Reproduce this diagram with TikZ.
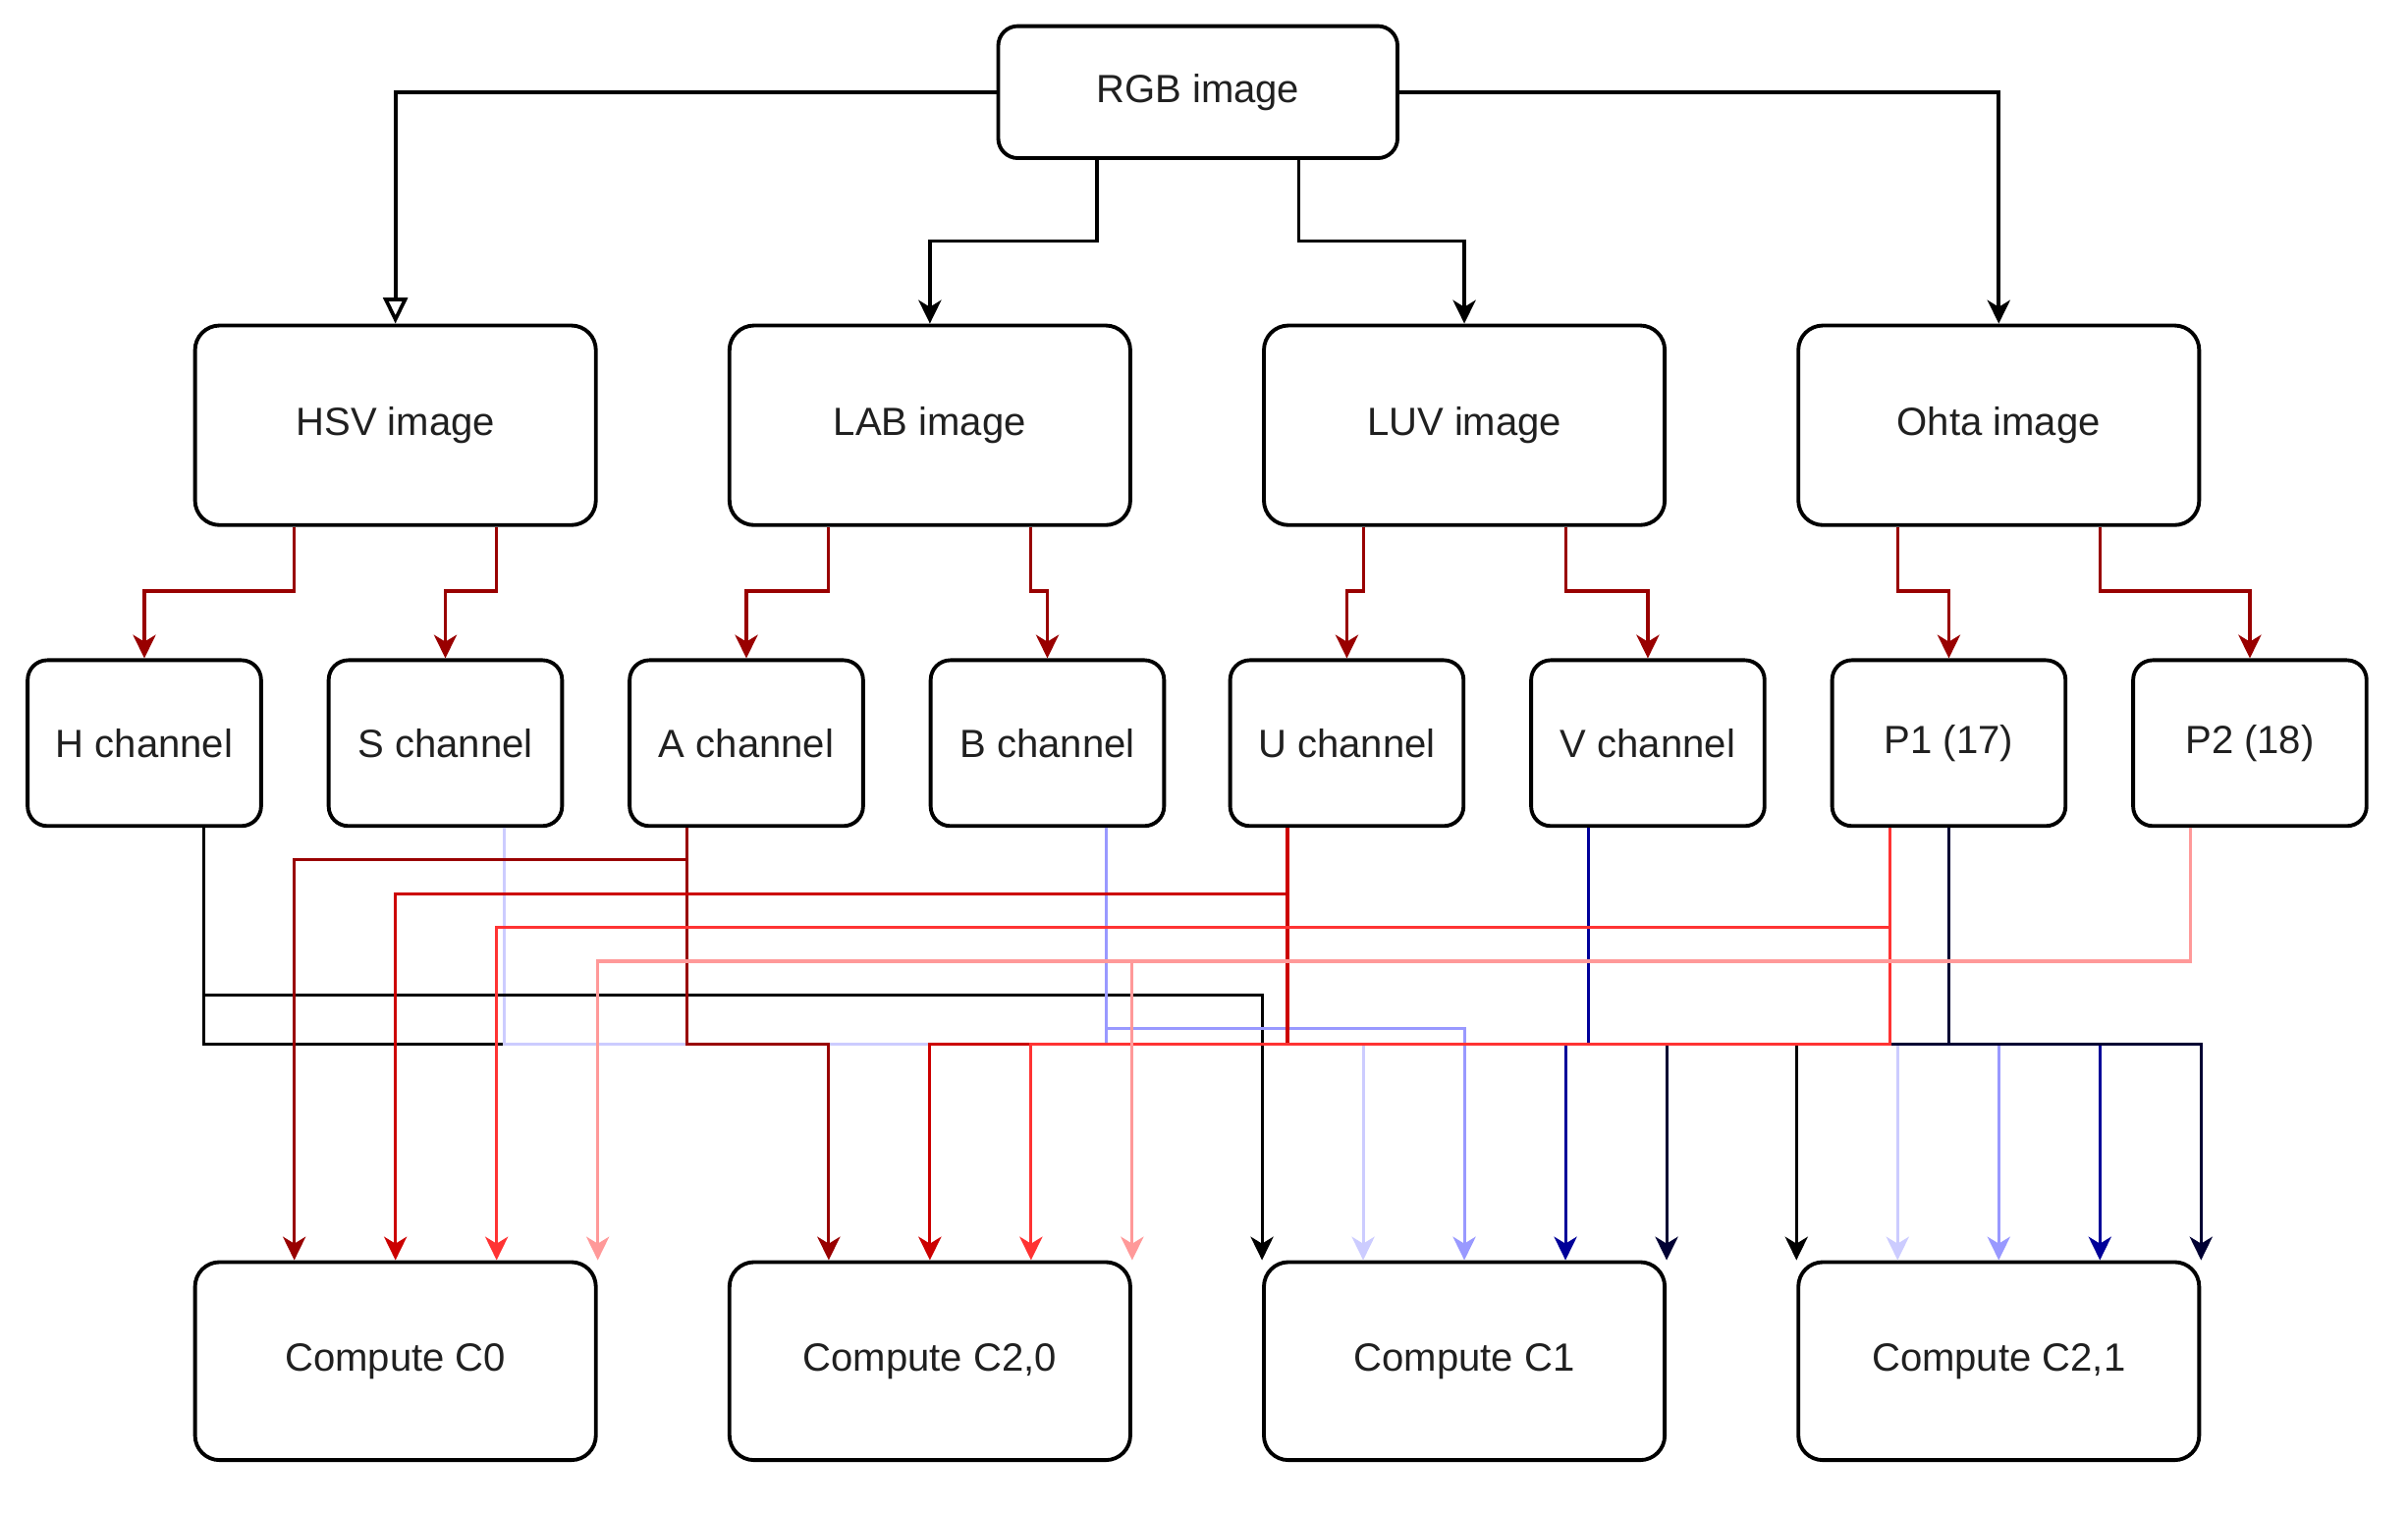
\documentclass[tikz,border=0pt]{standalone}
\usepackage{fontspec}
\setmainfont{Liberation Sans}
\usetikzlibrary{calc,arrows.meta}
\definecolor{cdred}{HTML}{990000}
\definecolor{cred}{HTML}{CC0000}
\definecolor{clred}{HTML}{FF3333}
\definecolor{cpink}{HTML}{FF9999}
\definecolor{clblue}{HTML}{CCCCFF}
\definecolor{cmblue}{HTML}{9999FF}
\definecolor{cdblue}{HTML}{000099}
\definecolor{cnavy}{HTML}{000033}
\definecolor{ctext}{HTML}{202020}
\begin{document}
\begin{tikzpicture}[x=0.015638cm, y=-0.015638cm,
  box/.style={draw, line width=1.1pt, align=center, inner sep=0pt, text=ctext,
    font=\fontsize{11.4}{13.7}\selectfont},
  bigbox/.style={box, minimum width=4.082cm, minimum height=2.033cm, rounded corners=0.25cm},
  cmpbox/.style={box, minimum width=4.082cm, minimum height=2.017cm, rounded corners=0.25cm},
  chbox/.style={box, minimum width=2.377cm, minimum height=1.689cm, rounded corners=0.2cm},
  rgbbox/.style={box, minimum width=4.066cm, minimum height=1.345cm, rounded corners=0.2cm},
  tip/.style={-{Stealth[length=6.8pt,width=6.6pt,inset=2pt]}},
  blk/.style={line width=1.05pt, tip, draw=black},
  wire/.style={line width=0.9pt, tip},
]
\useasboundingbox (0,0) rectangle (1568,985);

% nodes
\node[rgbbox] (rgb) at (780,60) {RGB image};
\node[bigbox] (hsv) at (257.5,277) {HSV image};
\node[bigbox] (lab) at (605.5,277) {LAB image};
\node[bigbox] (luv) at (953.5,277) {LUV image};
\node[bigbox] (ohta) at (1301.5,277) {Ohta image};

\node[chbox] (hch) at (94,484) {H channel};
\node[chbox] (sch) at (290,484) {S channel};
\node[chbox] (ach) at (486,484) {A channel};
\node[chbox] (bch) at (682,484) {B channel};
\node[chbox] (uch) at (877,484) {U channel};
\node[chbox] (vch) at (1073,484) {V channel};
\node[chbox] (p1) at (1269,484) {P1 (17)};
\node[chbox] (p2) at (1465,484) {P2 (18)};

\node[cmpbox] (c0) at (257.5,886.5) {Compute C0};
\node[cmpbox] (c20) at (605.5,886.5) {Compute C2,0};
\node[cmpbox] (c1) at (953.5,886.5) {Compute C1};
\node[cmpbox] (c21) at (1301.5,886.5) {Compute C2,1};

% level coordinates
\coordinate (y157) at (0,157);
\coordinate (y385) at (0,385);
\coordinate (y560) at (0,560);
\coordinate (y582) at (0,582);
\coordinate (y604) at (0,604);
\coordinate (y626) at (0,626);
\coordinate (y648) at (0,648);
\coordinate (y670) at (0,670);
\coordinate (y680) at (0,680);

% ports
\path (rgb.south west) -- (rgb.south east) coordinate[pos=0.25] (rgba) coordinate[pos=0.75] (rgbb);
\path (hsv.south west) -- (hsv.south east) coordinate[pos=0.25] (hsva) coordinate[pos=0.75] (hsvb);
\path (lab.south west) -- (lab.south east) coordinate[pos=0.25] (laba) coordinate[pos=0.75] (labb);
\path (luv.south west) -- (luv.south east) coordinate[pos=0.25] (luva) coordinate[pos=0.75] (luvb);
\path (ohta.south west) -- (ohta.south east) coordinate[pos=0.25] (ohtaa) coordinate[pos=0.75] (ohtab);

\path (hch.south west) -- (hch.south east) coordinate[pos=0.75] (Hs);
\path (sch.south west) -- (sch.south east) coordinate[pos=0.75] (Ss);
\path (ach.south west) -- (ach.south east) coordinate[pos=0.25] (As);
\path (bch.south west) -- (bch.south east) coordinate[pos=0.75] (Bs);
\path (uch.south west) -- (uch.south east) coordinate[pos=0.25] (Us);
\path (vch.south west) -- (vch.south east) coordinate[pos=0.25] (Vs);
\path (p1.south west) -- (p1.south east) coordinate[pos=0.25] (P1a) coordinate[pos=0.5] (P1b);
\path (p2.south west) -- (p2.south east) coordinate[pos=0.25] (P2s);

\path (c0.north west) -- (c0.north east) coordinate[pos=0.25] (c0a) coordinate[pos=0.5] (c0b) coordinate[pos=0.75] (c0c) coordinate[pos=1] (c0d);
\path (c20.north west) -- (c20.north east) coordinate[pos=0.25] (c20a) coordinate[pos=0.5] (c20b) coordinate[pos=0.75] (c20c) coordinate[pos=1] (c20d);
\path (c1.north west) -- (c1.north east) coordinate[pos=0] (c1a) coordinate[pos=0.25] (c1b) coordinate[pos=0.5] (c1c) coordinate[pos=0.75] (c1d) coordinate[pos=1] (c1e);
\path (c21.north west) -- (c21.north east) coordinate[pos=0] (c21a) coordinate[pos=0.25] (c21b) coordinate[pos=0.5] (c21c) coordinate[pos=0.75] (c21d) coordinate[pos=1] (c21e);

% RGB -> row 2
\draw[line width=1.05pt, -{Triangle[open,fill=white,length=7.5pt,width=7pt]}] (rgb.west) -| (hsv.north);
\draw[blk] (rgba) -- (rgba |- y157) -| (lab.north);
\draw[blk] (rgbb) -- (rgbb |- y157) -| (luv.north);
\draw[blk] (rgb.east) -| (ohta.north);

% row 2 -> channels
\begin{scope}[wire, draw=cdred]
\draw (hsva) -- (hsva |- y385) -| (hch.north);
\draw (hsvb) -- (hsvb |- y385) -| (sch.north);
\draw (laba) -- (laba |- y385) -| (ach.north);
\draw (labb) -- (labb |- y385) -| (bch.north);
\draw (luva) -- (luva |- y385) -| (uch.north);
\draw (luvb) -- (luvb |- y385) -| (vch.north);
\draw (ohtaa) -- (ohtaa |- y385) -| (p1.north);
\draw (ohtab) -- (ohtab |- y385) -| (p2.north);
\end{scope}

% channels -> compute
\draw[wire, draw=black] (Hs) |- (c21a |- y680) -- (c21a);
\draw[wire, draw=clblue] (Ss) |- (c1b |- y680) -- (c1b);
\draw[wire, draw=clblue] (Ss) |- (c21b |- y680) -- (c21b);
\draw[wire, draw=black] (Hs) |- (c1a |- y648) -- (c1a);
\draw[wire, draw=cdred] (As) |- (c0a |- y560) -- (c0a);
\draw[wire, draw=cdred] (As) |- (c20a |- y680) -- (c20a);
\draw[wire, draw=cmblue] (Bs) |- (c1c |- y670) -- (c1c);
\draw[wire, draw=cmblue] (Bs) |- (c21c |- y680) -- (c21c);
\draw[wire, draw=cred] (Us) |- (c0b |- y582) -- (c0b);
\draw[wire, draw=cred] (Us) |- (c20b |- y680) -- (c20b);
\draw[wire, draw=cdblue] (Vs) |- (c1d |- y680) -- (c1d);
\draw[wire, draw=cdblue] (Vs) |- (c21d |- y680) -- (c21d);
\draw[wire, draw=cnavy] (P1b) |- (c1e |- y680) -- (c1e);
\draw[wire, draw=cnavy] (P1b) |- (c21e |- y680) -- (c21e);
\draw[wire, draw=clred] (P1a) |- (c0c |- y604) -- (c0c);
\draw[wire, draw=clred] (P1a) |- (c20c |- y680) -- (c20c);
\draw[wire, draw=cpink] (P2s) |- (c0d |- y626) -- (c0d);
\draw[wire, draw=cpink] (P2s) |- (c20d |- y626) -- (c20d);
\end{tikzpicture}
\end{document}
